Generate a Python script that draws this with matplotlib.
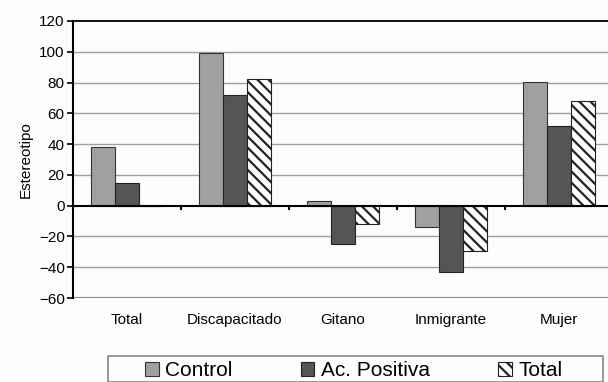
import matplotlib
matplotlib.use("Agg")
import matplotlib.pyplot as plt
import numpy as np
from matplotlib.patches import Patch, Rectangle
import matplotlib.transforms as mtransforms

categories = ["Total", "Discapacitado", "Gitano", "Inmigrante", "Mujer"]
control = [38, 99, 3, -14, 80.5]
ac_positiva = [15, 72, -25, -43, 52]
total = [0, 82, -12, -29.5, 68]
yticks = [-60, -40, -20, 0, 20, 40, 60, 80, 100, 120]

plt.rcParams['font.family'] = ['Liberation Sans', 'DejaVu Sans']
plt.rcParams['hatch.linewidth'] = 1.6

fig = plt.figure(figsize=(6.08, 3.82), dpi=100)
fig.patch.set_facecolor('#fdfdfd')
W, H = 608, 382
ax = fig.add_axes([73 / W, 1 - 298 / H, 540 / W, 277 / H])
ax.set_facecolor('#fdfdfd')

x = np.arange(len(categories))
w = 0.222
ax.bar(x - w, control, w, color='#a0a0a0', edgecolor='#333333', linewidth=0.8, zorder=3)
ax.bar(x, ac_positiva, w, color='#555555', edgecolor='#222222', linewidth=0.8, zorder=3)
ax.bar(x + w, total, w, color='white', edgecolor='#222222', hatch='\\\\\\', linewidth=0.8, zorder=3)

ax.set_xlim(-0.5, 4.5)
ax.set_ylim(-60, 120)
ax.set_yticks(yticks)
ax.tick_params(axis='y', labelsize=11, length=4, width=1.2, direction='out', pad=2)
for yv in yticks:
    if yv not in (0, 120, -60):
        ax.axhline(yv, color='#a0a0a0', linewidth=1.0, zorder=1)
ax.axhline(-60, color='#888888', linewidth=1.5, zorder=1)

ax.spines['right'].set_visible(False)
ax.spines['top'].set_color('black')
ax.spines['top'].set_linewidth(1.3)
ax.spines['left'].set_linewidth(1.5)
ax.spines['bottom'].set_position(('data', 0))
ax.spines['bottom'].set_linewidth(1.5)
ax.spines['bottom'].set_zorder(4)
ax.set_xticks([0.5, 1.5, 2.5, 3.5])
ax.set_xticklabels([])
ax.tick_params(axis='x', length=3, width=1.5, direction='out')

trans = mtransforms.blended_transform_factory(ax.transData, ax.transAxes)
for xi, c in zip(x, categories):
    ax.text(xi, -0.08, c, transform=trans, ha='center', va='center', fontsize=11)

ax.set_ylabel('Estereotipo', fontsize=11, labelpad=4)

# legend frame (cut off at bottom of figure)
fig.add_artist(Rectangle((108 / W, 0), (603 - 108) / W, (H - 356) / H,
                         transform=fig.transFigure, facecolor='#fdfdfd',
                         edgecolor='#888888', linewidth=1.2, zorder=0))

handles = [
    Patch(facecolor='#a0a0a0', edgecolor='#333333', linewidth=0.8, label='Control'),
    Patch(facecolor='#555555', edgecolor='#222222', linewidth=0.8, label='Ac. Positiva'),
    Patch(facecolor='white', edgecolor='#222222', hatch='\\\\\\', linewidth=0.8, label='Total'),
]
leg = fig.legend(handles=handles, loc='upper left',
                 bbox_to_anchor=(145 / W, 1 - 361 / H), ncol=3, fontsize=15,
                 frameon=False, handlelength=0.65, handleheight=0.65,
                 handletextpad=0.3, columnspacing=3.3,
                 borderpad=0.0, borderaxespad=0.0)

fig.savefig('out.png', dpi=100, facecolor=fig.get_facecolor())
